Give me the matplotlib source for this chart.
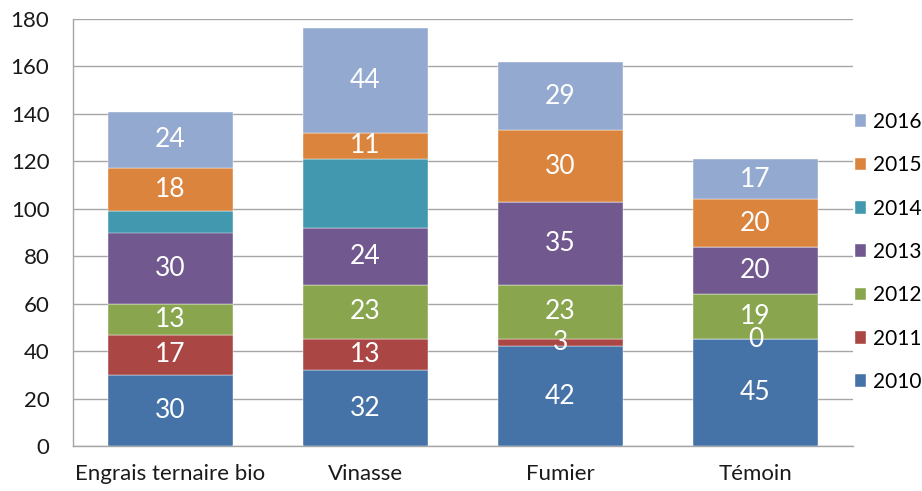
import matplotlib
matplotlib.use("Agg")
import matplotlib.pyplot as plt
import numpy as np

plt.rcParams['font.family'] = ['Lato', 'DejaVu Sans']

categories = ["Engrais ternaire bio", "Vinasse", "Fumier", "Témoin"]
years = ["2010", "2011", "2012", "2013", "2014", "2015", "2016"]
v2010 = [30, 32, 42, 45]
v2011 = [17, 13, 3, 0]
v2012 = [13, 23, 23, 19]
v2013 = [30, 24, 35, 20]
v2014 = [9, 29, 0, 0]
v2015 = [18, 11, 30, 20]
v2016 = [24, 44, 29, 17]
series = [v2010, v2011, v2012, v2013, v2014, v2015, v2016]
show_labels = [True, True, True, True, False, True, True]
colors = ["#4572A7", "#AA4643", "#89A54E", "#71588F", "#4198AF", "#DB843D", "#93A9CF"]
yticks = [0, 20, 40, 60, 80, 100, 120, 140, 160, 180]

fig = plt.figure(figsize=(9.22, 4.91), dpi=100)
ax = fig.add_axes([73/922, 1-446/491, (853-73)/922, (446-19)/491])

x = np.arange(len(categories))
bottom = np.zeros(len(categories))
handles = []
for vals, col, yr, lab in zip(series, colors, years, show_labels):
    vals = np.array(vals, dtype=float)
    bars = ax.bar(x, vals, 0.645, bottom=bottom, color=col, label=yr, zorder=3,
                  edgecolor='white', linewidth=0.3)
    handles.append(bars)
    if lab:
        for xi, b, v in zip(x, bottom, vals):
            ax.text(xi, b + v/2, f"{int(v)}", ha='center', va='center',
                    color='white', fontsize=19, zorder=4)
    bottom += vals

ax.set_xlim(-0.5, 3.5)
ax.set_ylim(0, 180)
ax.set_yticks(yticks)
ax.set_yticklabels([str(t) for t in yticks], fontsize=16)
ax.set_xticks(x)
ax.set_xticklabels(categories, fontsize=16)
ax.tick_params(axis='both', length=0, colors='#1a1a1a')
ax.tick_params(axis='y', pad=17)
ax.tick_params(axis='x', pad=13)
ax.grid(axis='y', color='#A6A6A6', linewidth=1.0, zorder=0)
for s in ['top', 'right']:
    ax.spines[s].set_visible(False)
ax.spines['left'].set_color('#A6A6A6')
ax.spines['bottom'].set_color('#A6A6A6')
ax.spines['left'].set_linewidth(1.0)
ax.spines['bottom'].set_linewidth(1.0)

leg = fig.legend(handles[::-1], years[::-1], loc='upper left',
                 bbox_to_anchor=(855/922, 1-112/491), frameon=False,
                 fontsize=15, handlelength=0.55, handleheight=0.55,
                 handletextpad=0.3, labelspacing=1.12, borderaxespad=0,
                 borderpad=0)

fig.savefig("out.png", dpi=100)
